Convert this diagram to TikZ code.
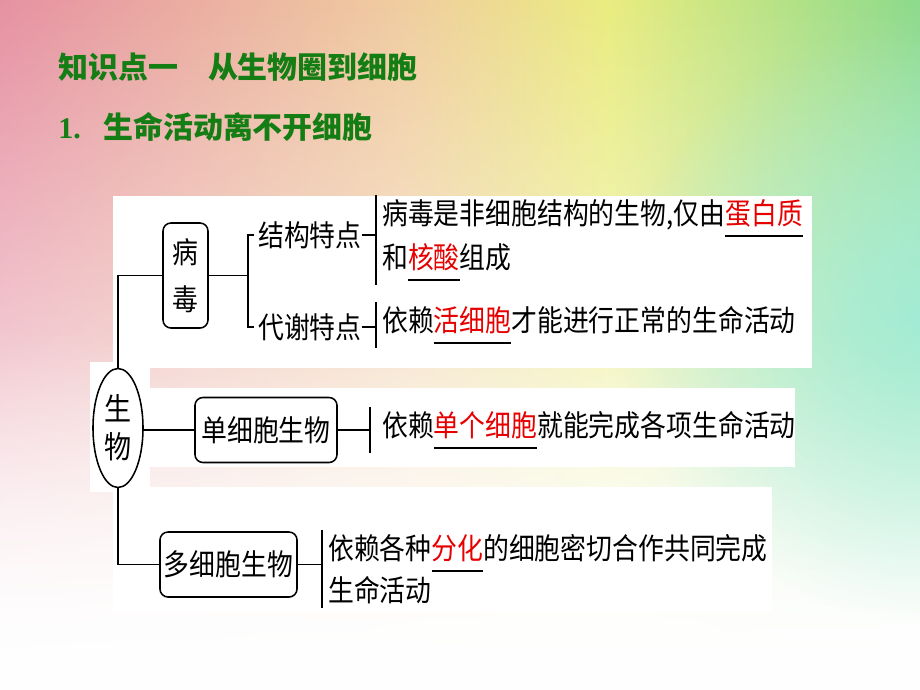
\documentclass[tikz,border=0pt]{standalone}
\usepackage{fontspec}
\usepackage{xcolor}
\setmainfont{Liberation Serif}
\newfontfamily\hei[FakeStretch=0.875]{Noto Sans CJK SC}
\newfontfamily\titlehei{Noto Sans CJK SC}
\usetikzlibrary{positioning,shapes.geometric,fadings}

\definecolor{titlegreen}{RGB}{20,125,20}
\definecolor{keyred}{RGB}{230,0,0}
\definecolor{bgpink}{RGB}{230,145,162}
\definecolor{bgpeach}{RGB}{240,205,160}
\definecolor{bgyellow}{RGB}{234,236,128}
\definecolor{bggreen}{RGB}{140,218,140}
\definecolor{bgcyan}{RGB}{160,236,215}

\pgfdeclarehorizontalshading{skyshade}{100bp}{color(0bp)=(bgpink); color(25bp)=(bgpink); color(47bp)=(bgpeach); color(58bp)=(bgyellow); color(75bp)=(bggreen); color(100bp)=(bggreen)}
\tikzfading[name=fade up, top color=transparent!100, middle color=transparent!18, bottom color=transparent!0]
\tikzfading[name=glow, inner color=transparent!10, outer color=transparent!100]

% red answer word with a black line under it
\newcommand\redul[1]{\setbox0\hbox{\textcolor{keyred}{#1}}\rlap{\rule[-0.42em]{\wd0}{1.5pt}}\box0}

\begin{document}
\begin{tikzpicture}[x=0.025cm,y=-0.025cm,
  text node/.style={anchor=west,inner xsep=0pt,inner ysep=1mm,font=\hei\fontsize{21}{26}\selectfont},
  title node/.style={anchor=west,inner sep=0pt,text=titlegreen,font=\titlehei\bfseries\fontsize{21.3}{26}\selectfont},
  box node/.style={draw,rounded corners=2mm,line width=1.1pt,inner sep=0pt,align=center,font=\hei\fontsize{21}{26}\selectfont},
  bio node/.style={ellipse,draw,line width=1.1pt,inner sep=0pt,minimum width=12.5mm,minimum height=29.75mm,align=center,font=\hei\fontsize{22}{27}\selectfont},
  link/.style={line width=1.4pt}]

  % background
  \useasboundingbox (0,0) rectangle (920,690);
  \shade[shading=skyshade] (0,0) rectangle (920,690);
  \fill[white,path fading=fade up] (0,0) rectangle (920,690);
  \fill[white,path fading=fade up] (0,330) rectangle (920,690);
  \fill[bgcyan,path fading=glow] (920,320) circle (300);
  \fill[white] (113,196) rectangle (812,368);
  \fill[white] (145,388) rectangle (795,467);
  \fill[white] (90,362) rectangle (150,492);
  \fill[white] (113,487) rectangle (772,612);

  \node[title node] (topic) at (58,67) {知识点一\quad 从生物圈到细胞};
  \node[title node] (point) at (58,127) {{\rmfamily 1.}\hspace{0.75em}生命活动离不开细胞};

  \node[bio node] (bio) at (118,428) {生\\物};
  \node[box node,minimum width=11.25mm,minimum height=26.25mm,font=\hei\fontsize{21}{33.4}\selectfont] (virus) at (185.5,275.5) {病\\毒};
  \node[text node] (struct) at (258,235) {结构特点};
  \node[text node] (metab) at (258,327) {代谢特点};
  \node[text node] (vline1) at (382,218) {病毒是非细胞结构的生物,仅由\redul{蛋白质}};
  \node[text node] (vline2) at (382,262) {和\redul{核酸}组成};
  \node[text node] (vline3) at (382,325) {依赖\redul{活细胞}才能进行正常的生命活动};
  \node[box node,minimum width=35.5mm,minimum height=16.25mm] (uni) at (266,430) {单细胞生物};
  \node[text node] (uline) at (382,430) {依赖\redul{单个细胞}就能完成各项生命活动};
  \node[box node,minimum width=34.25mm,minimum height=16.25mm] (multi) at (228.5,564.5) {多细胞生物};
  \node[text node] (mline1) at (328,553) {依赖各种\redul{分化}的细胞密切合作共同完成};
  \node[text node] (mline2) at (328,590) {生命活动};

  \coordinate (fork) at (248,275.5);
  \coordinate (bar1) at ([xshift=-1.5mm]vline1.west);
  \coordinate (bar2) at ([xshift=-1.5mm]vline3.west);
  \coordinate (bar3) at ([xshift=-3mm]uline.west);
  \coordinate (bar4) at ([xshift=-1.5mm]mline1.west);

  \draw[link] (bio.north) |- (virus.west);
  \draw[link] (uni.west -| bio.east) -- (uni.west);
  \draw[link] (bio.south) |- (multi.west);
  \draw[link] (virus.east) -- (fork);
  \draw[link] ([xshift=-1mm]struct.west) -| (fork) |- ([xshift=-1mm]metab.west);
  \draw[link] (struct.east) -- (struct.east -| bar1);
  \draw[link] (bar1 |- vline1.north) -- (bar1 |- vline2.south);
  \draw[link] (metab.east) -- (metab.east -| bar2);
  \draw[link] (bar2 |- vline3.north) -- (bar2 |- vline3.south);
  \draw[link] (uni.east) -- (uni.east -| bar3);
  \draw[link] (bar3 |- uline.north) -- (bar3 |- uline.south);
  \draw[link] (multi.east) -- (multi.east -| bar4);
  \draw[link] (bar4 |- mline1.north) -- (bar4 |- mline2.south);
\end{tikzpicture}
\end{document}
